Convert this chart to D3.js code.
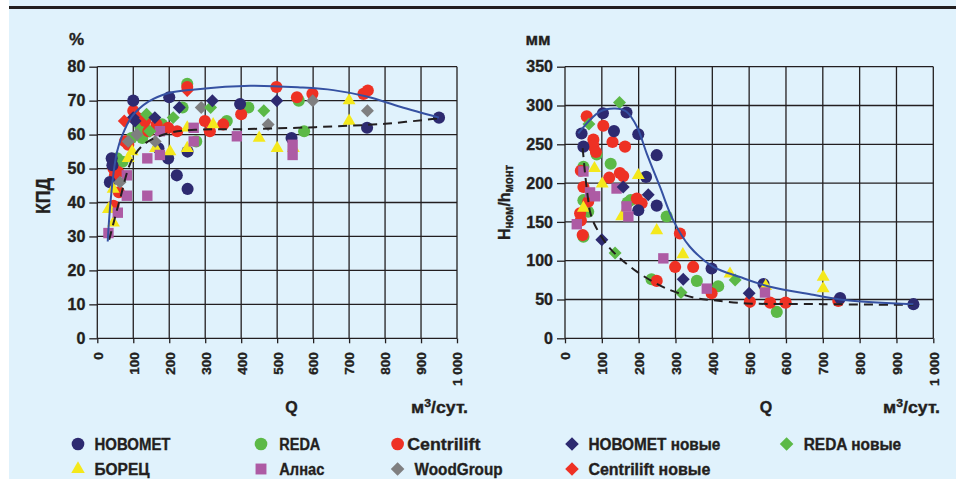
<!DOCTYPE html>
<html>
<head>
<meta charset="utf-8">
<script src="https://cdn.jsdelivr.net/npm/d3@7"></script>
<style>
  body { margin:0; background:#fff; }
  svg { display:block; }
  text { font-family:"Liberation Sans Narrow","Arial Narrow","Liberation Sans",Arial,sans-serif; font-weight:bold; fill:#231f20; stroke:#231f20; stroke-width:0.35px; }
</style>
</head>
<body>
<svg id="chart" width="956" height="479"></svg>
<script>
// ---------- DATA ----------
var xTicks=[0,100,200,300,400,500,600,700,800,900,1000];
var kpdTicks=[0,10,20,30,40,50,60,70,80];
var mmTicks=[0,50,100,150,200,250,300,350];

var seriesNames=["НОВОМЕТ","REDA","Centrilift","НОВОМЕТ новые","REDA новые","БОРЕЦ","Алнас","WoodGroup","Centrilift новые"];

// left chart: [Q, КПД %]
var novometKpd=[[35,46],[40,53],[42,51],[100,70],[170,56],[197,53],[200,71],[221,48],[251,44],[251,55],[397,69],[540,59],[750,62],[950,65]];
var redaKpd=[[55,53],[70,52],[95,59],[120,62],[125,59],[180,63],[237,68],[250,75],[275,58],[360,64],[420,68],[560,70],[575,61]];
var centriliftKpd=[[45,39],[45,50],[49,48],[58,49],[60,43],[77,58],[86,57],[100,67],[110,65],[133,64],[142,61],[165,63],[197,62],[222,61],[250,74],[299,64],[313,61],[350,63],[400,66],[498,74],[555,71],[598,72],[740,72],[752,73]];
var novometNewKpd=[[100,65],[105,64],[160,65],[228,68],[320,70],[499,70]];
var redaNewKpd=[[137,66],[146,61],[211,65],[315,68],[463,67]];
var boretsKpd=[[31,38],[35,38],[45,34],[44,44],[86,53],[97,55],[162,56],[202,55],[250,62],[250,56],[322,63],[450,59],[500,56],[545,56],[700,70],[700,64]];
var alnasKpd=[[31,31],[57,37],[82,42],[82,48],[139,42],[139,53],[174,54],[174,61],[268,62],[268,58],[388,59.5],[543,57],[543,54]];
var woodKpd=[[63,46],[86,58],[110,60],[161,58],[289,68],[475,63],[599,70],[751,67]];
var centriliftNewKpd=[[75,64],[250,73]];
var trendKpd=[[29,28.5],[35,38],[45,48.6],[55,55],[68,59.4],[96,65.3],[142,69.7],[197,72.2],[272,73.3],[425,74.4],[564,73.9],[656,73.1],[749,71.2],[842,68.2],[950,65]];
var trendKpdNew=[[33,29],[63,41],[96,52.5],[133,57.4],[197,60.4],[272,61.4],[400,61.6],[606,62.2],[800,63.2],[950,64.8]];

// right chart: [Q, Hном/hмонт мм]
var novometMm=[[45,264],[50,247],[103,290],[133,267],[167,291],[199,263],[249,236],[220,208],[199,165],[249,171],[398,90],[539,70],[747,52],[946,44]];
var redaMm=[[50,221],[50,178],[50,131],[63,163],[86,237],[124,225],[170,175],[178,178],[235,76],[276,157],[358,74],[416,67],[575,34]];
var centriliftMm=[[41,161],[43,152],[43,216],[48,133],[50,195],[59,286],[63,176],[77,256],[77,248],[84,240],[104,274],[120,207],[129,253],[149,213],[158,209],[163,247],[195,180],[208,174],[249,74],[299,92],[312,135],[348,92],[398,58],[502,47],[557,46],[599,46],[742,48]];
var novometNewMm=[[100,127],[158,195],[226,185],[321,76],[500,58]];
var redaNewMm=[[65,276],[136,110],[148,304],[315,59],[462,75]];
var boretsMm=[[50,168],[80,219],[101,199],[154,157],[199,210],[249,139],[320,108],[448,83],[545,67],[701,79],[701,64]];
var alnasMm=[[32,147],[50,215],[68,188],[82,183],[140,193],[167,170],[172,157],[267,103],[385,64],[543,59]];
var woodMm=[];
var centriliftNewMm=[];
var trendMm=[[36,264],[95,292],[136,296],[167,292],[195,273],[222,238],[258,195],[294,152],[339,118],[403,92],[475,79],[560,66],[674,56],[765,49],[946,44]];
var trendMmNew=[[48,245],[55,210],[63,178],[68,163],[81,146],[122,116],[195,86],[276,64],[358,51.5],[403,49],[493,45],[700,44],[946,43]];

// ---------- STYLE ----------
var col={navy:"#2d2a70",green:"#5cb947",red:"#ee3124",yellow:"#f4e81c",purple:"#ad5ba4",grey:"#7f7f80",line:"#3551a2",grid:"#231f20",bg:"#e0f2fc"};
var sym={
  circle:{type:d3.symbolCircle,size:115,rot:0},
  diamond:{type:d3.symbolSquare,size:84,rot:45},
  triangle:{type:d3.symbolTriangle,size:72,rot:0},
  square:{type:d3.symbolSquare,size:108,rot:0}
};
var styleOf={
  "НОВОМЕТ":[col.navy,"circle"],"REDA":[col.green,"circle"],"Centrilift":[col.red,"circle"],
  "НОВОМЕТ новые":[col.navy,"diamond"],"REDA новые":[col.green,"diamond"],"БОРЕЦ":[col.yellow,"triangle"],
  "Алнас":[col.purple,"square"],"WoodGroup":[col.grey,"diamond"],"Centrilift новые":[col.red,"diamond"]
};

var svg=d3.select("#chart");
svg.append("rect").attr("x",9).attr("y",0).attr("width",947).attr("height",479).attr("fill",col.bg);
svg.append("rect").attr("x",9).attr("y",6).attr("width",947).attr("height",3).attr("fill","#231f20");

function panel(opt){
  var x=d3.scaleLinear().domain([0,1000]).range([opt.x0,opt.x1]);
  var y=d3.scaleLinear().domain([0,opt.ymax]).range([338.3,66.7]);
  var g=svg.append("g");

  // grid
  g.selectAll("line.v").data(xTicks).enter().append("line")
    .attr("x1",function(d){return x(d)}).attr("x2",function(d){return x(d)})
    .attr("y1",y(0)).attr("y2",y(opt.ymax))
    .attr("stroke",col.grid).attr("stroke-width",1.3);
  g.selectAll("line.h").data(opt.yTicks).enter().append("line")
    .attr("x1",x(0)).attr("x2",x(1000))
    .attr("y1",function(d){return y(d)}).attr("y2",function(d){return y(d)})
    .attr("stroke",col.grid).attr("stroke-width",1.3);

  var yAxis=d3.axisLeft(y).tickValues(opt.yTicks).tickSize(8).tickPadding(4);
  var ya=g.append("g").attr("transform","translate("+x(0)+",0)").call(yAxis);
  ya.select(".domain").remove();
  ya.selectAll("line").attr("stroke",col.grid).attr("stroke-width",1.3);
  ya.selectAll("text").style("font-size","16px").attr("fill","#231f20");

  var xAxis=d3.axisBottom(x).tickValues(xTicks).tickSize(5)
    .tickFormat(function(d){return d==1000?"1 000":d});
  var xa=g.append("g").attr("transform","translate(0,"+y(0)+")").call(xAxis);
  xa.select(".domain").remove();
  xa.selectAll("line").attr("stroke",col.grid).attr("stroke-width",1.3);
  xa.selectAll("text").style("font-size","13.5px").attr("fill","#231f20")
    .attr("transform","rotate(-90)").attr("text-anchor","end")
    .attr("x",-14).attr("y",0).attr("dy","0.36em");

  // points
  var order=["REDA","Centrilift","НОВОМЕТ","БОРЕЦ","Алнас","WoodGroup","REDA новые","НОВОМЕТ новые","Centrilift новые"];
  order.forEach(function(name){
    var st=styleOf[name], s=sym[st[1]];
    var path=d3.symbol().type(s.type).size(s.size)();
    g.selectAll(null).data(opt.data[name]).enter().append("path")
      .attr("d",path)
      .attr("transform",function(d){return "translate("+x(d[0])+","+y(d[1])+") rotate("+s.rot+")"})
      .attr("fill",st[0]);
  });

  var line=d3.line().x(function(d){return x(d[0])}).y(function(d){return y(d[1])})
    .curve(d3.curveCatmullRom.alpha(0.5));
  g.append("path").datum(opt.dash).attr("d",line).attr("fill","none")
    .attr("stroke","#231f20").attr("stroke-width",2).attr("stroke-dasharray","9,6");
  g.append("path").datum(opt.trend).attr("d",line).attr("fill","none")
    .attr("stroke",col.line).attr("stroke-width",2);

  // titles
  g.append("text").attr("x",opt.unitX).attr("y",45).attr("text-anchor","middle").style("font-size","17px").text(opt.unit);
  g.append("text").attr("x",opt.qX).attr("y",413).attr("text-anchor","middle").style("font-size","16px").text("Q");
  var t=g.append("text").attr("x",opt.m3X).attr("y",413).style("font-size","16px")
    .attr("textLength",57).attr("lengthAdjust","spacingAndGlyphs");
  t.append("tspan").text("м");
  t.append("tspan").attr("dy",-6).style("font-size","11px").text("3");
  t.append("tspan").attr("dy",6).text("/сут.");
}

panel({x0:97.3,x1:457,ymax:80,yTicks:kpdTicks,unit:"%",unitX:76.5,qX:291.5,m3X:411,
  trend:trendKpd,dash:trendKpdNew,
  data:{"НОВОМЕТ":novometKpd,"REDA":redaKpd,"Centrilift":centriliftKpd,"НОВОМЕТ новые":novometNewKpd,
        "REDA новые":redaNewKpd,"БОРЕЦ":boretsKpd,"Алнас":alnasKpd,"WoodGroup":woodKpd,"Centrilift новые":centriliftNewKpd}});
panel({x0:565,x1:933.3,ymax:350,yTicks:mmTicks,unit:"мм",unitX:538,qX:766,m3X:883,
  trend:trendMm,dash:trendMmNew,
  data:{"НОВОМЕТ":novometMm,"REDA":redaMm,"Centrilift":centriliftMm,"НОВОМЕТ новые":novometNewMm,
        "REDA новые":redaNewMm,"БОРЕЦ":boretsMm,"Алнас":alnasMm,"WoodGroup":woodMm,"Centrilift новые":centriliftNewMm}});

// y axis titles
svg.append("text").attr("transform","translate(50,196) rotate(-90)").attr("text-anchor","middle")
  .style("font-size","20px").attr("textLength",36).attr("lengthAdjust","spacingAndGlyphs").text("КПД");
var yt=svg.append("text").attr("transform","translate(510,240) rotate(-90)").style("font-size","17px")
  .attr("textLength",75).attr("lengthAdjust","spacingAndGlyphs");
yt.append("tspan").text("H");
yt.append("tspan").attr("dy",3).style("font-size","12px").text("ном");
yt.append("tspan").attr("dy",-3).text("/h");
yt.append("tspan").attr("dy",3).style("font-size","12px").text("монт");

// ---------- LEGEND ----------
var legendPos=[[78,444,94.5,76],[261,444,279.3,41],[397.6,444,407.3,73],[572,444,588.4,132],[786.6,444,803.7,97.5],
               [78,469,94.5,55],[261,469,279.3,45],[397.6,469,414.6,88],[572,469,588.4,122]];
var legendOrder=["НОВОМЕТ","REDA","Centrilift","НОВОМЕТ новые","REDA новые","БОРЕЦ","Алнас","WoodGroup","Centrilift новые"];
var lg=svg.append("g").selectAll("g").data(legendOrder).enter().append("g");
lg.append("path")
  .attr("d",function(d){var s=sym[styleOf[d][1]];return d3.symbol().type(s.type).size(s.size*1.1)()})
  .attr("transform",function(d,i){return "translate("+legendPos[i][0]+","+legendPos[i][1]+") rotate("+sym[styleOf[d][1]].rot+")"})
  .attr("fill",function(d){return styleOf[d][0]});
lg.append("text").attr("x",function(d,i){return legendPos[i][2]})
  .attr("y",function(d,i){return legendPos[i][1]+6})
  .style("font-size","16px")
  .attr("textLength",function(d,i){return legendPos[i][3]}).attr("lengthAdjust","spacingAndGlyphs")
  .text(function(d){return d});
</script>
</body>
</html>
